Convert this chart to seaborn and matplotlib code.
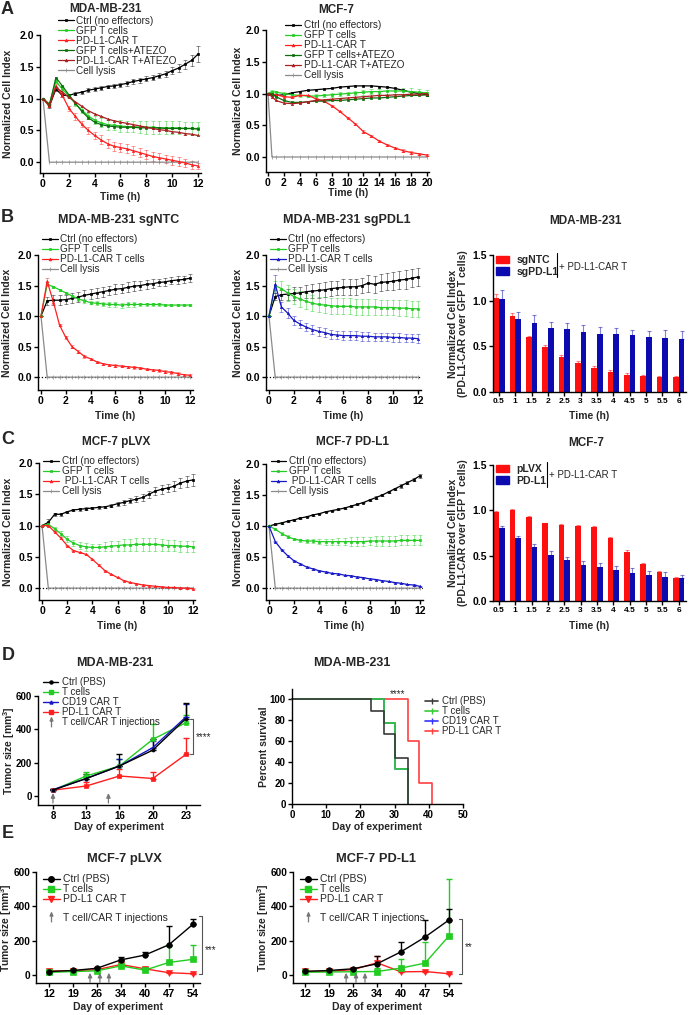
import numpy as np
import pandas as pd
import matplotlib
matplotlib.use('Agg')
import matplotlib.pyplot as plt
import seaborn as sns
from matplotlib.lines import Line2D
from matplotlib.patches import Patch
from matplotlib.path import Path

# ---------------- data ----------------
t12 = [0, 0.5, 1, 1.5, 2, 2.5, 3, 3.5, 4, 4.5, 5, 5.5, 6, 6.5, 7, 7.5, 8, 8.5, 9, 9.5, 10, 10.5, 11, 11.5, 12]
t20 = [0, 0.5, 1, 2, 3, 4, 5, 6, 7, 8, 9, 10, 11, 12, 13, 14, 15, 16, 17, 18, 19, 20]
lysis12 = [1.0, 0, 0, 0, 0, 0, 0, 0, 0, 0, 0, 0, 0, 0, 0, 0, 0, 0, 0, 0, 0, 0, 0, 0, 0]
lysis20 = [1.0, 0, 0, 0, 0, 0, 0, 0, 0, 0, 0, 0, 0, 0, 0, 0, 0, 0, 0, 0, 0, 0]

# A: MDA-MB-231
a1_ctrl = [1.00, 0.88, 1.15, 1.05, 1.05, 1.08, 1.10, 1.13, 1.15, 1.17, 1.19, 1.20, 1.22, 1.24, 1.27, 1.29, 1.31, 1.33, 1.36, 1.39, 1.44, 1.48, 1.54, 1.60, 1.70]
a1_ctrl_err = [0, 0.03, 0.03, 0.02, 0.02, 0.02, 0.02, 0.03, 0.03, 0.03, 0.03, 0.03, 0.03, 0.04, 0.04, 0.04, 0.04, 0.04, 0.04, 0.05, 0.05, 0.06, 0.07, 0.09, 0.12]
a1_gfp = [1.00, 0.92, 1.27, 1.15, 1.04, 0.92, 0.82, 0.73, 0.66, 0.62, 0.59, 0.58, 0.57, 0.56, 0.56, 0.55, 0.55, 0.55, 0.54, 0.54, 0.54, 0.54, 0.53, 0.53, 0.53]
a1_gfp_err = [0, 0.02, 0.03, 0.03, 0.03, 0.03, 0.04, 0.05, 0.06, 0.07, 0.08, 0.08, 0.09, 0.09, 0.09, 0.09, 0.10, 0.10, 0.10, 0.10, 0.10, 0.10, 0.10, 0.10, 0.10]
a1_car = [1.00, 0.88, 1.20, 1.05, 0.85, 0.72, 0.60, 0.50, 0.42, 0.35, 0.29, 0.25, 0.23, 0.21, 0.18, 0.15, 0.12, 0.09, 0.07, 0.05, 0.03, 0.01, -0.01, -0.04, -0.06]
a1_car_err = [0, 0.02, 0.03, 0.03, 0.04, 0.05, 0.05, 0.06, 0.06, 0.07, 0.07, 0.07, 0.07, 0.07, 0.07, 0.07, 0.07, 0.07, 0.07, 0.07, 0.07, 0.07, 0.06, 0.06, 0.05]
a1_gfp_atezo = [1.00, 0.90, 1.33, 1.20, 1.06, 0.93, 0.80, 0.70, 0.63, 0.59, 0.57, 0.56, 0.55, 0.55, 0.55, 0.54, 0.54, 0.54, 0.54, 0.53, 0.53, 0.53, 0.53, 0.53, 0.52]
a1_car_atezo = [1.00, 0.90, 1.18, 1.10, 1.02, 0.95, 0.88, 0.81, 0.76, 0.72, 0.68, 0.65, 0.63, 0.61, 0.59, 0.57, 0.55, 0.53, 0.51, 0.50, 0.48, 0.47, 0.45, 0.44, 0.42]

# A: MCF-7
a2_ctrl = [1.00, 0.98, 0.97, 0.98, 1.01, 1.03, 1.05, 1.06, 1.07, 1.08, 1.10, 1.11, 1.12, 1.12, 1.12, 1.11, 1.10, 1.08, 1.05, 1.02, 1.00, 0.98]
a2_gfp = [1.00, 1.03, 1.02, 1.00, 0.98, 0.97, 0.96, 0.96, 0.97, 0.98, 0.99, 1.00, 1.01, 1.02, 1.03, 1.03, 1.04, 1.04, 1.04, 1.03, 1.02, 1.01]
a2_gfp_err = [0, 0.02, 0.02, 0.02, 0.02, 0.02, 0.02, 0.03, 0.03, 0.03, 0.03, 0.03, 0.03, 0.04, 0.04, 0.04, 0.04, 0.05, 0.05, 0.05, 0.05, 0.05]
a2_car = [1.00, 0.99, 0.98, 0.95, 0.94, 0.97, 0.97, 0.92, 0.88, 0.81, 0.72, 0.62, 0.52, 0.40, 0.33, 0.25, 0.19, 0.14, 0.10, 0.07, 0.05, 0.03]
a2_car_err = [0, 0.01, 0.01, 0.01, 0.01, 0.01, 0.01, 0.01, 0.01, 0.01, 0.01, 0.01, 0.01, 0.02, 0.02, 0.02, 0.02, 0.02, 0.02, 0.02, 0.02, 0.02]
a2_gfp_atezo = [1.00, 0.99, 0.95, 0.89, 0.86, 0.86, 0.87, 0.88, 0.88, 0.89, 0.89, 0.90, 0.91, 0.92, 0.93, 0.93, 0.94, 0.95, 0.96, 0.97, 0.97, 0.98]
a2_car_atezo = [1.00, 0.95, 0.89, 0.85, 0.84, 0.85, 0.87, 0.89, 0.90, 0.91, 0.92, 0.93, 0.94, 0.95, 0.96, 0.97, 0.97, 0.98, 0.98, 0.99, 0.99, 1.00]

# B: MDA-MB-231 sgNTC
b1_ctrl = [1.00, 1.25, 1.26, 1.26, 1.27, 1.29, 1.31, 1.34, 1.36, 1.38, 1.40, 1.42, 1.44, 1.45, 1.47, 1.49, 1.50, 1.52, 1.53, 1.55, 1.56, 1.58, 1.59, 1.60, 1.62]
b1_ctrl_err = [0, 0.07, 0.08, 0.08, 0.08, 0.08, 0.08, 0.08, 0.08, 0.08, 0.08, 0.08, 0.08, 0.08, 0.08, 0.08, 0.07, 0.07, 0.07, 0.06, 0.06, 0.06, 0.06, 0.06, 0.07]
b1_gfp = [1.00, 1.52, 1.48, 1.43, 1.38, 1.33, 1.28, 1.25, 1.22, 1.21, 1.20, 1.19, 1.19, 1.18, 1.19, 1.19, 1.19, 1.19, 1.19, 1.19, 1.18, 1.18, 1.18, 1.18, 1.18]
b1_gfp_err = [0, 0.03, 0.02, 0.02, 0.02, 0.02, 0.03, 0.03, 0.03, 0.03, 0.03, 0.04, 0.04, 0.04, 0.04, 0.04, 0.03, 0.03, 0.03, 0.02, 0.02, 0.02, 0.02, 0.02, 0.02]
b1_car = [1.00, 1.57, 1.23, 0.85, 0.65, 0.50, 0.42, 0.34, 0.30, 0.25, 0.22, 0.20, 0.19, 0.18, 0.17, 0.16, 0.15, 0.13, 0.12, 0.11, 0.09, 0.08, 0.06, 0.04, 0.03]
b1_car_err = [0, 0.05, 0.03, 0.02, 0.02, 0.02, 0.02, 0.02, 0.02, 0.02, 0.02, 0.02, 0.02, 0.02, 0.02, 0.02, 0.02, 0.02, 0.02, 0.02, 0.02, 0.02, 0.02, 0.02, 0.02]

# B: MDA-MB-231 sgPDL1
b2_ctrl = [1.00, 1.32, 1.35, 1.36, 1.37, 1.38, 1.40, 1.41, 1.42, 1.43, 1.45, 1.46, 1.47, 1.48, 1.48, 1.50, 1.54, 1.52, 1.55, 1.56, 1.57, 1.59, 1.60, 1.62, 1.64]
b2_ctrl_err = [0, 0.06, 0.08, 0.09, 0.10, 0.10, 0.11, 0.11, 0.12, 0.12, 0.12, 0.12, 0.13, 0.13, 0.13, 0.13, 0.14, 0.14, 0.14, 0.14, 0.15, 0.15, 0.15, 0.15, 0.15]
b2_gfp = [1.00, 1.50, 1.45, 1.38, 1.32, 1.28, 1.24, 1.21, 1.19, 1.18, 1.17, 1.16, 1.16, 1.16, 1.15, 1.15, 1.15, 1.15, 1.14, 1.14, 1.14, 1.13, 1.13, 1.12, 1.12]
b2_gfp_err = [0, 0.08, 0.12, 0.13, 0.13, 0.13, 0.13, 0.13, 0.13, 0.13, 0.13, 0.13, 0.13, 0.13, 0.13, 0.13, 0.13, 0.13, 0.13, 0.13, 0.13, 0.13, 0.13, 0.13, 0.13]
b2_car = [1.00, 1.52, 1.15, 1.05, 0.93, 0.87, 0.82, 0.78, 0.75, 0.73, 0.70, 0.69, 0.68, 0.68, 0.68, 0.67, 0.67, 0.66, 0.66, 0.66, 0.65, 0.65, 0.64, 0.64, 0.63]
b2_car_err = [0, 0.15, 0.08, 0.08, 0.07, 0.07, 0.07, 0.07, 0.07, 0.07, 0.07, 0.07, 0.07, 0.07, 0.07, 0.07, 0.07, 0.07, 0.07, 0.07, 0.07, 0.07, 0.07, 0.07, 0.07]

# B/C ratio bars
bar_hours = ['0.5', '1', '1.5', '2', '2.5', '3', '3.5', '4', '4.5', '5', '5.5', '6']
b3_ntc = [1.03, 0.83, 0.60, 0.49, 0.38, 0.32, 0.26, 0.22, 0.19, 0.17, 0.16, 0.16]
b3_ntc_err = [0.04, 0.03, 0.01, 0.02, 0.02, 0.02, 0.02, 0.02, 0.02, 0.02, 0.02, 0.02]
b3_pdl1 = [1.02, 0.80, 0.76, 0.70, 0.69, 0.66, 0.64, 0.63, 0.62, 0.60, 0.59, 0.58]
b3_pdl1_err = [0.10, 0.08, 0.08, 0.07, 0.07, 0.07, 0.07, 0.07, 0.06, 0.07, 0.09, 0.09]

# C: MCF-7 pLVX
c1_ctrl = [1.00, 1.05, 1.18, 1.18, 1.22, 1.25, 1.26, 1.27, 1.28, 1.29, 1.30, 1.32, 1.35, 1.37, 1.40, 1.42, 1.45, 1.50, 1.55, 1.58, 1.60, 1.63, 1.68, 1.71, 1.73]
c1_ctrl_err = [0, 0.05, 0.02, 0.02, 0.02, 0.02, 0.02, 0.02, 0.02, 0.02, 0.02, 0.03, 0.03, 0.04, 0.04, 0.05, 0.05, 0.06, 0.06, 0.07, 0.07, 0.08, 0.08, 0.09, 0.09]
c1_gfp = [1.00, 1.02, 0.95, 0.87, 0.78, 0.72, 0.68, 0.66, 0.65, 0.65, 0.66, 0.67, 0.68, 0.69, 0.69, 0.70, 0.70, 0.70, 0.70, 0.69, 0.68, 0.68, 0.67, 0.67, 0.66]
c1_gfp_err = [0, 0.03, 0.03, 0.04, 0.05, 0.05, 0.06, 0.06, 0.06, 0.06, 0.07, 0.08, 0.08, 0.09, 0.09, 0.10, 0.10, 0.10, 0.10, 0.09, 0.09, 0.09, 0.09, 0.09, 0.09]
c1_car = [1.00, 1.00, 0.90, 0.80, 0.68, 0.60, 0.57, 0.54, 0.46, 0.37, 0.28, 0.22, 0.17, 0.12, 0.09, 0.07, 0.05, 0.04, 0.03, 0.02, 0.01, 0.01, 0.00, 0.00, -0.01]
c1_car_err = [0, 0.01, 0.01, 0.01, 0.01, 0.01, 0.01, 0.01, 0.01, 0.01, 0.01, 0.01, 0.01, 0.01, 0.01, 0.01, 0.01, 0.01, 0.01, 0.01, 0.01, 0.01, 0.01, 0.01, 0.01]

# C: MCF-7 PD-L1
c2_ctrl = [1.00, 1.03, 1.05, 1.08, 1.10, 1.13, 1.15, 1.18, 1.20, 1.23, 1.25, 1.27, 1.29, 1.32, 1.35, 1.38, 1.42, 1.46, 1.50, 1.55, 1.60, 1.65, 1.70, 1.75, 1.81]
c2_ctrl_err = [0, 0.01, 0.01, 0.01, 0.01, 0.01, 0.01, 0.01, 0.01, 0.01, 0.01, 0.01, 0.01, 0.01, 0.01, 0.01, 0.01, 0.02, 0.02, 0.02, 0.02, 0.03, 0.03, 0.03, 0.03]
c2_gfp = [1.00, 0.95, 0.88, 0.83, 0.79, 0.77, 0.76, 0.76, 0.75, 0.75, 0.75, 0.75, 0.75, 0.75, 0.75, 0.75, 0.76, 0.76, 0.76, 0.76, 0.76, 0.77, 0.77, 0.77, 0.77]
c2_gfp_err = [0, 0.01, 0.02, 0.02, 0.02, 0.03, 0.03, 0.03, 0.04, 0.05, 0.05, 0.06, 0.06, 0.07, 0.07, 0.07, 0.07, 0.08, 0.08, 0.08, 0.08, 0.08, 0.08, 0.08, 0.08]
c2_car = [1.00, 0.75, 0.62, 0.52, 0.44, 0.39, 0.34, 0.31, 0.28, 0.26, 0.24, 0.23, 0.21, 0.20, 0.18, 0.17, 0.15, 0.14, 0.12, 0.11, 0.09, 0.08, 0.06, 0.05, 0.03]
c2_car_err = [0, 0.01, 0.01, 0.01, 0.01, 0.01, 0.01, 0.01, 0.01, 0.01, 0.01, 0.01, 0.01, 0.01, 0.01, 0.01, 0.01, 0.01, 0.01, 0.01, 0.01, 0.01, 0.01, 0.01, 0.01]

c3_plvx = [0.98, 1.00, 0.93, 0.86, 0.84, 0.83, 0.82, 0.69, 0.54, 0.41, 0.32, 0.25]
c3_plvx_err = [0.01, 0.01, 0.01, 0.005, 0.005, 0.01, 0.01, 0.02, 0.02, 0.005, 0.01, 0.01]
c3_pdl1 = [0.81, 0.69, 0.60, 0.51, 0.45, 0.40, 0.37, 0.34, 0.31, 0.29, 0.27, 0.25]
c3_pdl1_err = [0.02, 0.03, 0.03, 0.04, 0.04, 0.04, 0.05, 0.05, 0.05, 0.04, 0.05, 0.04]

# D: tumor growth MDA-MB-231
d_days = [8, 13, 16, 20, 23]
d_ctrl = [35, 105, 180, 275, 465]
d_ctrl_err = [8, 27, 70, 70, 95]
d_t = [35, 120, 180, 340, 440]
d_t_err = [8, 25, 40, 90, 45]
d_cd19 = [38, 105, 180, 290, 475]
d_cd19_err = [6, 15, 40, 40, 75]
d_pdl1 = [35, 60, 120, 105, 250]
d_pdl1_err = [6, 25, 40, 40, 100]
d_injection_days = [8, 15]

# D: survival
surv_ctrl_t = [0, 23, 27, 30, 34]
surv_ctrl = [100, 88.9, 66.7, 44.4, 0]
surv_t_t = [0, 27, 30, 34]
surv_t = [100, 77.8, 33.3, 0]
surv_cd19_t = [0, 27, 30, 34]
surv_cd19 = [100, 77.8, 33.3, 0]
surv_pdl1_t = [0, 34, 37, 41]
surv_pdl1 = [100, 60, 20, 0]

# E: tumor growth MCF-7
e_days = [12, 19, 26, 34, 40, 47, 54]
e1_ctrl = [19, 25, 38, 87, 115, 175, 294]
e1_ctrl_err = [3, 3, 5, 19, 20, 110, 31]
e1_t = [14, 19, 23, 52, 27, 72, 90]
e1_t_err = [3, 3, 4, 15, 18, 95, 83]
e1_car = [22, 23, 30, 60, 35, 12, 6]
e1_car_err = [4, 3, 5, 20, 10, 3, 2]
e2_ctrl = [20, 25, 35, 64, 134, 220, 320]
e2_ctrl_err = [3, 4, 6, 43, 60, 100, 62]
e2_t = [15, 16, 18, 19, 39, 68, 227]
e2_t_err = [3, 3, 4, 20, 52, 122, 335]
e2_car = [20, 20, 30, 70, 17, 19, 6]
e2_car_err = [3, 3, 5, 39, 5, 4, 3]
e_injection_days = [24, 27, 30]

# ---------------- style ----------------
sns.set_theme(style='ticks')
plt.rcParams['font.family'] = ['Liberation Sans', 'DejaVu Sans']
plt.rcParams['font.weight'] = 'bold'
plt.rcParams['axes.labelweight'] = 'bold'
plt.rcParams['mathtext.fontset'] = 'custom'
plt.rcParams['mathtext.rm'] = 'Liberation Sans'
plt.rcParams['mathtext.bf'] = 'Liberation Sans:bold'

BLACK = '#000000'
GREEN = '#22cc22'
RED = '#ff1f1f'
DGREEN = '#0b6e0b'
DRED = '#a8201f'
GREY = '#8a8a8a'
BLUE = '#1717c8'
BAR_RED = '#ff1010'
BAR_BLUE = '#0b0bb0'
ARROW = '#777777'

W, H = 689, 1015
fig = plt.figure(figsize=(W / 100, H / 100), dpi=100)
fig.patch.set_facecolor('white')


def fx(x):
    return x / W


def fy(y):
    return 1 - y / H


def add_ax(box, xlim, ylim):
    left, top, right, bottom = box
    ax = fig.add_axes([fx(left), fy(bottom), (right - left) / W, (bottom - top) / H])
    ax.set_xlim(*xlim)
    ax.set_ylim(*ylim)
    sns.despine(ax=ax)
    ax.set_facecolor('none')
    for s in ax.spines.values():
        s.set_linewidth(1.0)
        s.set_color('black')
    ax.tick_params(axis='both', direction='out', length=3, width=1.0, pad=1.5,
                   labelsize=7.5, colors='black')
    return ax


def labels(ax, xlabel, xlab_y, ylabel, ylab_x, fs=7.5):
    ax.set_xlabel(xlabel, fontsize=fs)
    ax.set_ylabel(ylabel, fontsize=fs, linespacing=1.05)
    pos = ax.get_position()
    ax.xaxis.set_label_coords(pos.x0 + pos.width / 2, fy(xlab_y), transform=fig.transFigure)
    ax.yaxis.set_label_coords(fx(ylab_x), pos.y0 + pos.height / 2, transform=fig.transFigure)
    ax.xaxis.label.set_va('center')
    ax.yaxis.label.set_va('center')


def title(x, y, text, fs=8.5):
    fig.text(fx(x), fy(y), text, ha='center', va='center', fontsize=fs, weight='bold')


def course(ax, times, series, ms=1.6):
    for label, vals, errs, color, marker in series:
        if errs is not None:
            ax.errorbar(times, vals, yerr=errs, fmt='none', ecolor=color, alpha=0.45,
                        elinewidth=0.7, capsize=1.4, capthick=0.7, zorder=2)
        sns.lineplot(x=times, y=vals, ax=ax, color=color, marker=marker,
                     markersize=ms if marker != '|' else 3, markeredgecolor=color,
                     markeredgewidth=0.5, linewidth=0.9,
                     estimator=None, sort=False, zorder=3)
    ax.set_yticks([0, 0.5, 1.0, 1.5, 2.0])
    ax.set_yticklabels(['0.0', '0.5', '1.0', '1.5', '2.0'])


def course_legend(ax, series, x, y, hl=1.55):
    handles = [Line2D([], [], color=c, marker=m, markersize=2 if m != '|' else 3,
                      markeredgecolor=c, markeredgewidth=0.5, lw=0.9)
               for _, _, _, c, m in series]
    ax.legend(handles, [s[0] for s in series], loc='upper left',
              bbox_to_anchor=(fx(x), fy(y)), bbox_transform=fig.transFigure,
              frameon=False, borderpad=0, borderaxespad=0, handlelength=hl,
              handletextpad=0.3, labelspacing=0.0, prop=dict(size=7.2, weight='normal'))


def bars(ax, a_vals, a_errs, b_vals, b_errs, names, colors, legend_top):
    df = pd.DataFrame({'hour': bar_hours + bar_hours,
                       'value': a_vals + b_vals,
                       'line': [names[0]] * len(bar_hours) + [names[1]] * len(bar_hours)})
    sns.barplot(data=df, x='hour', y='value', hue='line', hue_order=names, order=bar_hours,
                palette=colors, width=0.7, saturation=1, errorbar=None, legend=False,
                linewidth=0, ax=ax)
    for cont, vals, errs, col in zip(ax.containers, [a_vals, b_vals], [a_errs, b_errs], colors):
        xc = [b.get_x() + b.get_width() / 2 for b in cont]
        ax.errorbar(xc, vals, yerr=[np.zeros(len(errs)), errs], fmt='none', ecolor=col,
                    alpha=0.5, elinewidth=0.8, capsize=1.5, capthick=0.8)
    ax.set_xlim(-0.36, 11.45)
    ax.set_ylim(0, 1.5)
    ax.set_yticks([0, 0.5, 1.0, 1.5])
    ax.set_yticklabels(['0.0', '0.5', '1.0', '1.5'])
    ax.tick_params(axis='x', labelsize=6)
    handles = [Patch(color=c) for c in colors]
    ax.legend(handles, names, loc='upper left', bbox_to_anchor=(fx(496), fy(legend_top)),
              bbox_transform=fig.transFigure,
              frameon=False, borderpad=0, borderaxespad=0, handlelength=1.25,
              handleheight=0.75, handletextpad=0.7, labelspacing=0.15,
              prop=dict(size=7.5, weight='bold'))


def bar_note(xline, ytop, ybot, ytext):
    fig.add_artist(Line2D([fx(xline), fx(xline)], [fy(ytop), fy(ybot)], color='black', lw=0.8))
    fig.text(fx(xline + 2), fy(ytext), '+ PD-L1-CAR T', fontsize=7, weight='normal',
             ha='left', va='center')


arrow_marker = Path([(0, -1), (0, 0.3), (-0.3, 0.3), (0, 1), (0.3, 0.3), (0, 0.3)],
                    [Path.MOVETO, Path.LINETO, Path.MOVETO, Path.LINETO, Path.LINETO, Path.CLOSEPOLY])


def injections(ax, days, inj_days, tip, tail):
    pos = np.interp(inj_days, days, np.arange(len(days)))
    for p in pos:
        ax.annotate('', xy=(p, tip), xytext=(p, tail), annotation_clip=False,
                    arrowprops=dict(arrowstyle='-|>,head_width=0.1,head_length=0.22',
                                    color=ARROW, lw=0.9, shrinkA=0, shrinkB=0))


def bracket(ax, x, top, bottom, tick, text, tx, ty):
    ax.plot([x - tick, x, x, x - tick], [top, top, bottom, bottom], color='#555555',
            lw=0.8, clip_on=False)
    ax.text(tx, ty, text, fontsize=7, weight='normal', ha='left', va='center')


def tumor(ax, days, series, ms):
    for label, vals, errs, color, marker in series:
        x = np.arange(len(days))
        ax.errorbar(x, vals, yerr=[np.zeros(len(errs)), errs], fmt='none', ecolor=color,
                    elinewidth=1.0, capsize=2, capthick=1.0, zorder=2)
        sns.lineplot(x=x, y=vals, ax=ax, color=color, marker=marker, markersize=ms,
                     markeredgecolor=color, markeredgewidth=0.5, linewidth=1.0,
                     estimator=None, sort=False, zorder=3)
    ax.set_xticks(np.arange(len(days)))
    ax.set_xticklabels([str(d) for d in days])


# ---------------- panel A ----------------
a1_series = [('Ctrl (no effectors)', a1_ctrl, a1_ctrl_err, BLACK, 's'),
             ('GFP T cells', a1_gfp, a1_gfp_err, GREEN, 's'),
             ('PD-L1-CAR T', a1_car, a1_car_err, RED, '^'),
             ('GFP T cells+ATEZO', a1_gfp_atezo, None, DGREEN, 's'),
             ('PD-L1-CAR T+ATEZO', a1_car_atezo, None, DRED, '^'),
             ('Cell lysis', lysis12, None, GREY, '|')]
ax = add_ax((40, 35, 200.6, 173), (-0.23, 12.2), (-0.17, 2.0))
course(ax, t12, a1_series[::-1][:1] + a1_series[:5])
ax.set_xticks([0, 2, 4, 6, 8, 10, 12])
labels(ax, 'Time (h)', 197, 'Normalized Cell Index', 8)
course_legend(ax, a1_series, 58, 15.5)
title(106, 8.5, 'MDA-MB-231')

a2_series = [('Ctrl (no effectors)', a2_ctrl, None, BLACK, 's'),
             ('GFP T cells', a2_gfp, a2_gfp_err, GREEN, 's'),
             ('PD-L1-CAR T', a2_car, a2_car_err, RED, '^'),
             ('GFP T cells+ATEZO', a2_gfp_atezo, None, DGREEN, 's'),
             ('PD-L1-CAR T+ATEZO', a2_car_atezo, None, DRED, '^'),
             ('Cell lysis', lysis20, None, GREY, '|')]
ax = add_ax((266, 30, 429.4, 172), (-0.25, 20.3), (-0.236, 2.0))
course(ax, t20, a2_series[::-1][:1] + a2_series[:5])
ax.set_xticks(list(range(0, 21, 2)))
labels(ax, 'Time (h)', 192.5, 'Normalized Cell Index', 238)
course_legend(ax, a2_series, 285, 20)
title(336.5, 10, 'MCF-7')

# ---------------- panel B ----------------
for box, series, lx, lgx, tx, ttl in [
        ((38, 255, 192.5, 390),
         [('Ctrl (no effectors)', b1_ctrl, b1_ctrl_err, BLACK, 's'),
          ('GFP T cells', b1_gfp, b1_gfp_err, GREEN, 's'),
          ('PD-L1-CAR T cells', b1_car, b1_car_err, RED, '^'),
          ('Cell lysis', lysis12, None, GREY, '|')], 7, 42, 119, 'MDA-MB-231 sgNTC'),
        ((266, 255, 420.5, 390),
         [('Ctrl (no effectors)', b2_ctrl, b2_ctrl_err, BLACK, 's'),
          ('GFP T cells', b2_gfp, b2_gfp_err, GREEN, 's'),
          ('PD-L1-CAR T cells', b2_car, b2_car_err, BLUE, '^'),
          ('Cell lysis', lysis12, None, GREY, '|')], 238, 270, 346.5, 'MDA-MB-231 sgPDL1')]:
    ax = add_ax(box, (-0.24, 12.2), (-0.21, 2.0))
    ax.axhline(0, color='black', lw=0.9, ls=':', zorder=1)
    course(ax, t12, series[::-1][:1] + series[:3])
    ax.set_xticks([0, 2, 4, 6, 8, 10, 12])
    labels(ax, 'Time (h)', 416, 'Normalized Cell Index', lx)
    course_legend(ax, series, lgx, 234.5)
    title(tx, 220.5, ttl, fs=9)

ax = add_ax((493, 255, 686, 392), (-0.36, 11.45), (0, 1.5))
bars(ax, b3_ntc, b3_ntc_err, b3_pdl1, b3_pdl1_err, ['sgNTC', 'sgPD-L1'], [BAR_RED, BAR_BLUE], 255)
labels(ax, 'Time (h)', 416, 'Normalized Cell Index\n(PD-L1-CAR over GFP T cells)', 458)
bar_note(557, 253, 277, 266.7)
title(586, 220.5, 'MDA-MB-231', fs=8.5)

# ---------------- panel C ----------------
for box, series, lx, lgx, tx, ttl in [
        ((39, 463, 195.5, 600),
         [('Ctrl (no effectors)', c1_ctrl, c1_ctrl_err, BLACK, 's'),
          ('GFP T cells', c1_gfp, c1_gfp_err, GREEN, 's'),
          (' PD-L1-CAR T cells', c1_car, c1_car_err, RED, '^'),
          ('Cell lysis', lysis12, None, GREY, '|')], 8, 43, 116, 'MCF-7 pLVX'),
        ((266, 464, 422.5, 600),
         [('Ctrl (no effectors)', c2_ctrl, c2_ctrl_err, BLACK, 's'),
          ('GFP T cells', c2_gfp, c2_gfp_err, GREEN, 's'),
          (' PD-L1-CAR T cells', c2_car, c2_car_err, BLUE, '^'),
          ('Cell lysis', lysis12, None, GREY, '|')], 238, 270.7, 352, 'MCF-7 PD-L1')]:
    ax = add_ax(box, (-0.24, 12.2), (-0.19, 2.0))
    ax.axhline(0, color='black', lw=0.9, ls=':', zorder=1)
    course(ax, t12, series[::-1][:1] + series[:3])
    ax.set_xticks([0, 2, 4, 6, 8, 10, 12])
    labels(ax, 'Time (h)', 626, 'Normalized Cell Index', lx)
    course_legend(ax, series, lgx, 456)
    title(tx, 442, ttl, fs=8.5)

ax = add_ax((493, 465, 686, 601), (-0.36, 11.45), (0, 1.5))
bars(ax, c3_plvx, c3_plvx_err, c3_pdl1, c3_pdl1_err, ['pLVX', 'PD-L1'], [BAR_RED, BAR_BLUE], 464)
labels(ax, 'Time (h)', 626, 'Normalized Cell Index\n(PD-L1-CAR over GFP T cells)', 458)
bar_note(546.7, 461.7, 486.7, 475)
title(586, 443, 'MCF-7', fs=8.5)

# ---------------- panel D ----------------
d_series = [('Ctrl (PBS)', d_ctrl, d_ctrl_err, BLACK, 'o'),
            ('T cells', d_t, d_t_err, GREEN, 's'),
            ('CD19 CAR T', d_cd19, d_cd19_err, BLUE, '^'),
            ('PD-L1 CAR T', d_pdl1, d_pdl1_err, RED, 's')]
ax = add_ax((38, 696, 200, 805), (-0.45, 4.42), (-54, 600))
tumor(ax, d_days, [d_series[1], d_series[3], d_series[2], d_series[0]], 2.2)
ax.set_yticks([0, 200, 400, 600])
ax.tick_params(labelsize=7)
labels(ax, 'Day of experiment', 827, r'Tumor size [mm$^{\mathbf{3}}$]', 9)
injections(ax, d_days, d_injection_days, 18, -42)
bracket(ax, 4.21, 465, 255, 0.1, '****', 4.3, 355)
handles = [Line2D([], [], color=c, marker=m, markersize=2.2, markeredgecolor=c, lw=1)
           for _, _, _, c, m in d_series]
handles.append(Line2D([], [], ls='none', marker=arrow_marker, markersize=7, color=ARROW,
                      markeredgecolor=ARROW, markeredgewidth=0.9))
ax.legend(handles, [s[0] for s in d_series] + ['T cell/CAR T injections'], loc='upper left',
          bbox_to_anchor=(fx(43), fy(677)), bbox_transform=fig.transFigure, frameon=False,
          borderpad=0, borderaxespad=0, handlelength=1.55, handletextpad=0.4,
          labelspacing=0.0, prop=dict(size=7, weight='normal'))
title(114.5, 663, 'MDA-MB-231', fs=9)

# survival
ax = add_ax((292, 689, 463, 804), (0, 50), (0, 110))
surv_series = [('Ctrl (PBS)', surv_ctrl_t, surv_ctrl, '#3a3a3a'),
               ('T cells', surv_t_t, surv_t, '#33cc33'),
               ('CD19 CAR T', surv_cd19_t, surv_cd19, '#3333ff'),
               ('PD-L1 CAR T', surv_pdl1_t, surv_pdl1, '#ff4040')]
for label, tt, ss, col in [surv_series[3], surv_series[2], surv_series[1], surv_series[0]]:
    sns.lineplot(x=tt, y=ss, ax=ax, color=col, drawstyle='steps-post', linewidth=1.2,
                 estimator=None, sort=False, clip_on=False)
ax.set_xticks([0, 10, 20, 30, 40, 50])
ax.set_yticks([0, 20, 40, 60, 80, 100])
ax.tick_params(labelsize=7)
labels(ax, 'Day of experiment', 827, 'Percent survival', 264)
ax.text(30.8, 105, '****', fontsize=7, weight='normal', ha='center', va='center')
handles = [Line2D([], [], color=c, marker='|', markersize=4, lw=1.2) for _, _, _, c in surv_series]
ax.legend(handles, [s[0] for s in surv_series], loc='upper left',
          bbox_to_anchor=(fx(425), fy(696.5)), bbox_transform=fig.transFigure, frameon=False,
          borderpad=0, borderaxespad=0, handlelength=1.35, handletextpad=0.35,
          labelspacing=0.0, prop=dict(size=7, weight='normal'))
title(352, 663, 'MDA-MB-231', fs=9)

# ---------------- panel E ----------------
for box, xlim, c_, c_e, t_, t_e, r_, r_e, lgx, lx, br, ttl, tx in [
        ((36, 872, 200, 983), (-0.54, 6.3), e1_ctrl, e1_ctrl_err, e1_t, e1_t_err, e1_car, e1_car_err,
         43, 6, (6.37, 345, '***', 6.5, 145), 'MCF-7 pLVX', 124.5),
        ((293, 872, 461, 983), (-0.5, 6.5), e2_ctrl, e2_ctrl_err, e2_t, e2_t_err, e2_car, e2_car_err,
         300, 263, (6.53, 325, '**', 6.67, 159), 'MCF-7 PD-L1', 376)]:
    ax = add_ax(box, xlim, (-48, 600))
    e_series = [('Ctrl (PBS)', c_, c_e, BLACK, 'o'),
                ('T cells', t_, t_e, GREEN, 's'),
                ('PD-L1 CAR T', r_, r_e, RED, 'v')]
    tumor(ax, e_days, [e_series[2], e_series[1], e_series[0]], 4)
    ax.set_yticks([0, 200, 400, 600])
    ax.tick_params(axis='y', labelsize=7.2, pad=1)
    ax.tick_params(axis='x', labelsize=7.8)
    labels(ax, 'Day of experiment', 1007, r'Tumor size [mm$^{\mathbf{3}}$]', lx, fs=7.5)
    injections(ax, e_days, e_injection_days, 12, -44)
    bracket(ax, br[0], br[1], 5, 0.11, br[2], br[3], br[4])
    handles = [Line2D([], [], color=c, marker=m, markersize=4, markeredgecolor=c, lw=1)
               for _, _, _, c, m in e_series]
    leg = ax.legend(handles, [s[0] for s in e_series], loc='upper left',
                    bbox_to_anchor=(fx(lgx), fy(874.5)), bbox_transform=fig.transFigure,
                    frameon=False, borderpad=0, borderaxespad=0, handlelength=1.6,
                    handletextpad=0.35, labelspacing=0.0, prop=dict(size=7.5, weight='normal'))
    ax.add_artist(leg)
    ax.legend([Line2D([], [], ls='none', marker=arrow_marker, markersize=7, color=ARROW,
                      markeredgecolor=ARROW, markeredgewidth=0.9)],
              ['T cell/CAR T injections'], loc='upper left',
              bbox_to_anchor=(fx(lgx), fy(913)), bbox_transform=fig.transFigure,
              frameon=False, borderpad=0, borderaxespad=0, handlelength=1.6,
              handletextpad=0.35, prop=dict(size=7.5, weight='normal'))
    title(tx, 859, ttl, fs=9.3)

# panel letters
for letter, x, y in [('A', 7, 10), ('B', 7.5, 217.5), ('C', 7.5, 439), ('D', 8, 655.5), ('E', 8, 833.5)]:
    fig.text(fx(x), fy(y), letter, ha='center', va='center', fontsize=13, weight='bold')

fig.savefig('out.png', dpi=100)
